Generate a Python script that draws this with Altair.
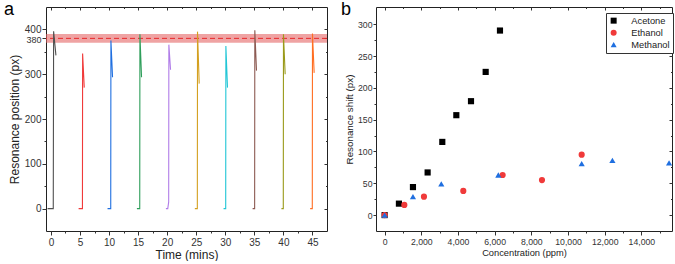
import altair as alt
import pandas as pd

FONT = "Liberation Sans"
INK = "#333333"

# ---------------- Panel a: resonance position vs time ----------------
cycle_names = ["0", "5", "10", "15", "20", "25", "30", "35", "40", "45"]
cycle_colors = ["#505050", "#f03a3a", "#1f6fe0", "#2e9e5a", "#b07ce8",
                "#d4a020", "#22c6d6", "#8c5a52", "#9a9a1a", "#ff6e22"]
cycle_times = [
    [-0.58, 0.40, 0.46, 0.86],
    [4.76, 5.42, 5.45, 5.73],
    [9.74, 10.29, 10.32, 10.60],
    [14.79, 15.28, 15.31, 15.59],
    [19.78, 20.10, 20.26, 20.29, 20.58],
    [24.76, 25.19, 25.22, 25.51],
    [29.70, 30.07, 30.10, 30.38],
    [34.70, 35.05, 35.08, 35.37],
    [39.66, 39.98, 40.01, 40.30],
    [44.60, 44.97, 45.00, 45.29],
]
cycle_values = [
    [0, 0, 396, 342],
    [0, 0, 346, 270],
    [0, 0, 375, 293],
    [0, 0, 389, 293],
    [0, 0, 15, 366, 310],
    [0, 0, 395, 279],
    [0, 0, 363, 270],
    [0, 0, 398, 308],
    [0, 0, 389, 300],
    [0, 0, 391, 303],
]
band_low, band_high, band_center = 370, 390, 380

a_x_major = [0, 5, 10, 15, 20, 25, 30, 35, 40, 45]
a_x_minor = [2.5, 7.5, 12.5, 17.5, 22.5, 27.5, 32.5, 37.5, 42.5]
a_y_major = [0, 100, 200, 300, 380, 400]
a_y_minor = [50, 150, 250, 350]

# ---------------- Panel b: resonance shift vs concentration ----------------
series_names = ["Acetone", "Ethanol", "Methanol"]
series_colors = ["#000000", "#f03a3a", "#1f6fe0"]
series_shapes = ["square", "circle", "triangle-up"]
acetone_x = [0, 780, 1545, 2345, 3145, 3910, 4710, 5510, 6290]
acetone_y = [0, 18, 44, 67, 115, 157, 179, 225, 290]
ethanol_x = [0, 1075, 2145, 4290, 6435, 8580, 10745]
ethanol_y = [0, 16, 29, 38, 63, 55, 95]
methanol_x = [0, 1545, 3090, 6200, 10745, 12420, 15510]
methanol_y = [0, 29, 49, 63, 81, 86, 82]

b_x_major = [0, 2000, 4000, 6000, 8000, 10000, 12000, 14000]
b_x_minor = [1000, 3000, 5000, 7000, 9000, 11000, 13000, 15000]
b_y_major = [0, 50, 100, 150, 200, 250, 300]
b_y_minor = [25, 75, 125, 175, 225, 275]

# ---------------- tables ----------------
rows = []
for name, ts, vs in zip(cycle_names, cycle_times, cycle_values):
    for i, (t, v) in enumerate(zip(ts, vs)):
        rows.append({"cycle": name, "t": t, "v": v, "i": i})
df_a = pd.DataFrame(rows)

rows = []
for name, xs, ys in [("Acetone", acetone_x, acetone_y),
                     ("Ethanol", ethanol_x, ethanol_y),
                     ("Methanol", methanol_x, methanol_y)]:
    for x, y in zip(xs, ys):
        rows.append({"gas": name, "c": x, "s": y})
df_b = pd.DataFrame(rows)


def axis(values, orient, title=None, labels=True, tick=4, offset=0,
         label_size=10, title_size=12, title_pad=2, label_pad=2, label_offset=0):
    return alt.Axis(values=values, orient=orient, title=title, labels=labels,
                    tickSize=tick, tickColor=INK, tickWidth=1, domain=False,
                    grid=False, offset=offset, labelFont=FONT,
                    labelFontSize=label_size, labelColor=INK,
                    labelPadding=label_pad, labelOverlap=False,
                    labelOffset=label_offset,
                    titleFont=FONT, titleFontSize=title_size,
                    titleFontWeight="normal", titleColor="#222222",
                    titlePadding=title_pad)


def axis_layers(data, xf, yf, xs, ys, xmaj, xmin, ymaj, ymin):
    out = []
    specs = [
        (axis(xmin, "bottom", labels=False, tick=2),
         axis(ymin, "left", labels=False, tick=2)),
        (axis(xmaj, "top", labels=False, tick=3, offset=-3),
         axis(ymaj, "right", labels=False, tick=3, offset=-3)),
        (axis(xmin, "top", labels=False, tick=1.5, offset=-1.5),
         axis(ymin, "right", labels=False, tick=1.5, offset=-1.5)),
    ]
    for xa, ya in specs:
        out.append(alt.Chart(data).mark_point(opacity=0).encode(
            x=alt.X(xf, type="quantitative", scale=xs, axis=xa),
            y=alt.Y(yf, type="quantitative", scale=ys, axis=ya)))
    return out


def panel_label(txt, dx):
    return alt.Chart(alt.Data(values=[{}])).mark_text(
        text=txt, align="left", baseline="top", fontSize=18, font=FONT,
        color="#000000").encode(x=alt.value(dx), y=alt.value(-6))


# ---------------- panel a chart ----------------
xs_a = alt.Scale(domain=[-0.85, 47.5], nice=False, zero=False)
ys_a = alt.Scale(domain=[-50, 450], nice=False, zero=False)

band = alt.Chart(pd.DataFrame({"lo": [band_low], "hi": [band_high]})).mark_rect(
    color="#e56565", opacity=0.6).encode(
    y=alt.Y("lo:Q", scale=ys_a, axis=None), y2="hi:Q")
rule = alt.Chart(pd.DataFrame({"c": [band_center]})).mark_rule(
    color="#e8282a", strokeDash=[5, 3], strokeWidth=1).encode(
    y=alt.Y("c:Q", scale=ys_a, axis=None))
lines = alt.Chart(df_a).mark_line(strokeWidth=1.1).encode(
    x=alt.X("t:Q", scale=xs_a,
            axis=axis(a_x_major, "bottom", title="Time (mins)", label_size=10,
                      title_size=12, title_pad=2)),
    y=alt.Y("v:Q", scale=ys_a,
            axis=axis(a_y_major, "left", title="Resonance position (px)",
                      label_size={"condition": {"test": "datum.value == 380", "value": 9},
                                  "value": 10},
                      label_offset={"condition": {"test": "datum.value == 380", "value": 1},
                                    "value": 0},
                      title_size=12, label_pad=1, title_pad=3)),
    color=alt.Color("cycle:N", scale=alt.Scale(domain=cycle_names, range=cycle_colors),
                    legend=None),
    order="i:Q",
)
panel_a = alt.layer(
    band, rule, lines,
    *axis_layers(df_a, "t", "v", xs_a, ys_a, a_x_major, a_x_minor, a_y_major, a_y_minor),
    panel_label("a", -42),
).resolve_axis(x="independent", y="independent").properties(width=281, height=224)

# ---------------- panel b chart ----------------
xs_b = alt.Scale(domain=[-470, 15670], nice=False, zero=False)
ys_b = alt.Scale(domain=[-25, 327], nice=False, zero=False)

leg = alt.Legend(title=None, orient="none", legendX=230, legendY=6,
                 strokeColor="#333333", fillColor="white", padding=3,
                 labelFont=FONT, labelFontSize=9.3, labelColor="#222222",
                 labelOffset=13, symbolSize=36, rowPadding=2,
                 symbolStrokeWidth=0)
points = alt.Chart(df_b).mark_point(filled=True, opacity=1, size=38).encode(
    x=alt.X("c:Q", scale=xs_b,
            axis=axis(b_x_major, "bottom", title="Concentration (ppm)",
                      label_size=8.7, title_size=9.3, title_pad=3)),
    y=alt.Y("s:Q", scale=ys_b,
            axis=axis(b_y_major, "left", title="Resonance shift (px)", tick=3,
                      label_size=8.7, title_size=9.8, label_pad=1, title_pad=3)),
    color=alt.Color("gas:N", scale=alt.Scale(domain=series_names, range=series_colors),
                    legend=leg),
    shape=alt.Shape("gas:N", scale=alt.Scale(domain=series_names, range=series_shapes),
                    legend=leg),
)
panel_b = alt.layer(
    points,
    *axis_layers(df_b, "c", "s", xs_b, ys_b, b_x_major, b_x_minor, b_y_major, b_y_minor),
    panel_label("b", -35),
).resolve_axis(x="independent", y="independent").properties(width=296, height=224)

chart = alt.hconcat(panel_a, panel_b, spacing=49, bounds="flush").resolve_scale(
    color="independent", shape="independent"
).properties(
    padding={"left": 3, "top": 0, "right": 0, "bottom": 0},
    background="white",
).configure_view(stroke="#222222", strokeWidth=1)

chart.save("out.html", embed_options={"renderer": "svg", "actions": False})
